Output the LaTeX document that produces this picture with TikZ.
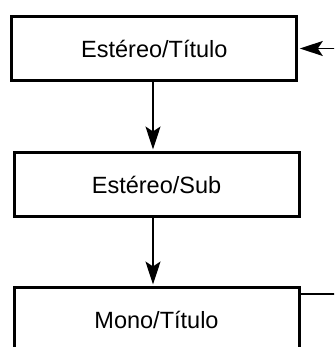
\documentclass[tikz,border=0pt]{standalone}
\usepackage{fontspec}
\setmainfont{Liberation Sans}
\usetikzlibrary{arrows.meta}
\begin{document}
\begin{tikzpicture}[x=1pt,y=-1pt,
  box/.style={draw,line width=3pt,minimum width=285pt,minimum height=64pt,inner sep=0pt,outer sep=0pt,font=\fontsize{23.5}{27}\selectfont},
  conn/.style={line width=1.8pt},
  arr/.style={conn,shorten >=3pt,-{Stealth[length=23pt,width=15pt,inset=5pt]}}]
\useasboundingbox (0,0) rectangle (334,347);
\clip (0,0) rectangle (334,347);
\node[box] (a) at (154.3,48.5) {Estéreo/Título};
\node[box] (b) at (156.5,184.5) {Estéreo/Sub};
\node[box] (c) at (156.5,319.5) {Mono/Título};
\coordinate (ain) at (336,48.5);
\coordinate (cout) at (336,294);
\draw[arr] (a.south -| 153,0) -- (b.north -| 153,0);
\draw[arr] (b.south -| 153,0) -- (c.north -| 153,0);
\draw[arr] (ain) -- (a.east);
\draw[conn] (c.east |- cout) -- (cout);
\end{tikzpicture}
\end{document}
